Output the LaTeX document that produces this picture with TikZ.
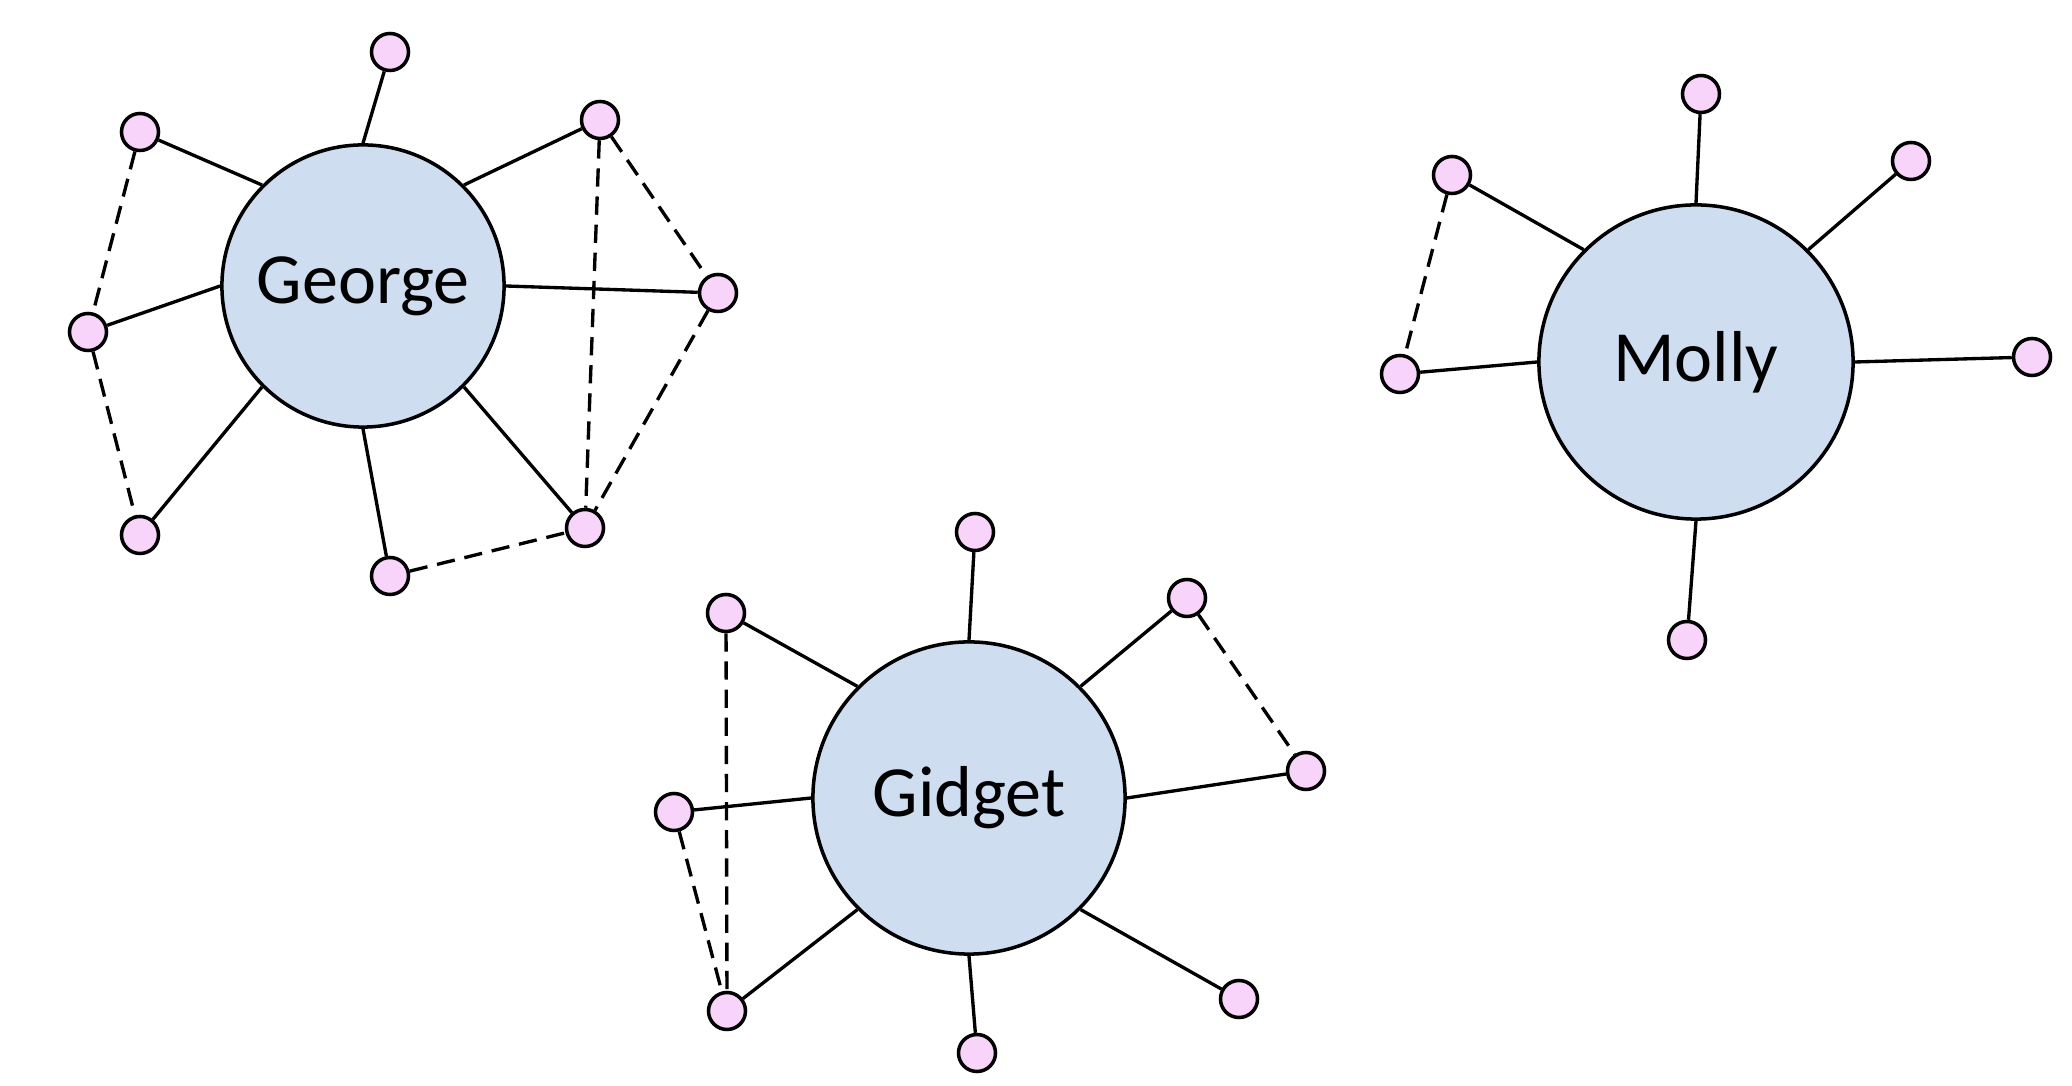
\documentclass[tikz,border=0pt]{standalone}
\usepackage{fontspec}
\setmainfont{Carlito}
\definecolor{hubfill}{RGB}{206,221,239}
\definecolor{satfill}{RGB}{249,212,250}
\tikzset{
  hub/.style={circle, draw=black, line width=1pt, fill=hubfill, inner sep=0pt,
    font=\fontsize{20.5}{24}\selectfont},
  sat/.style={circle, draw=black, line width=1pt, fill=satfill, inner sep=0pt, minimum size=0.37cm},
  tie/.style={line width=0.95pt},
  weak/.style={line width=0.95pt, dash pattern=on 5.2pt off 2.8pt},
}
\begin{document}
\begin{tikzpicture}[x=0.01cm,y=-0.01cm]
\useasboundingbox (0,0) rectangle (2072,1086);
% George
\node[hub, minimum size=2.82cm] (G) at (363,286) {George};
\node[sat] (g1) at (390,52) {};
\node[sat] (g2) at (140,132) {};
\node[sat] (g3) at (88,332) {};
\node[sat] (g4) at (140,535) {};
\node[sat] (g5) at (390,576) {};
\node[sat] (g6) at (585,528) {};
\node[sat] (g7) at (718,293) {};
\node[sat] (g8) at (600,120) {};
\draw[tie] (G.north) -- (g1);
\draw[tie] (G.north west) -- (g2);
\draw[tie] (G.west) -- (g3);
\draw[tie] (G.south west) -- (g4);
\draw[tie] (G.south) -- (g5);
\draw[tie] (G.south east) -- (g6);
\draw[tie] (G.east) -- (g7);
\draw[tie] (G.north east) -- (g8);
\draw[weak] (g2) -- (g3);
\draw[weak] (g3) -- (g4);
\draw[weak] (g8) -- (g7);
\draw[weak] (g8) -- (g6);
\draw[weak] (g7) -- (g6);
\draw[weak] (g5) -- (g6);
% Gidget
\node[hub, minimum size=3.12cm] (D) at (969,798) {Gidget};
\node[sat] (d1) at (975,532) {};
\node[sat] (d2) at (726,613) {};
\node[sat] (d3) at (674,812) {};
\node[sat] (d4) at (727,1011) {};
\node[sat] (d5) at (977,1053) {};
\node[sat] (d6) at (1239,999) {};
\node[sat] (d7) at (1306,771) {};
\node[sat] (d8) at (1187,598) {};
\draw[tie] (D.north) -- (d1);
\draw[tie] (D.north west) -- (d2);
\draw[tie] (D.west) -- (d3);
\draw[tie] (D.south west) -- (d4);
\draw[tie] (D.south) -- (d5);
\draw[tie] (D.south east) -- (d6);
\draw[tie] (D.east) -- (d7);
\draw[tie] (D.north east) -- (d8);
\draw[weak] (d2) -- (d4);
\draw[weak] (d3) -- (d4);
\draw[weak] (d8) -- (d7);
% Molly
\node[hub, minimum size=3.14cm] (M) at (1696,362) {Molly};
\node[sat] (m1) at (1701,94) {};
\node[sat] (m2) at (1452,175) {};
\node[sat] (m3) at (1400,374) {};
\node[sat] (m4) at (1911,161) {};
\node[sat] (m5) at (2032,357) {};
\node[sat] (m6) at (1687,640) {};
\draw[tie] (M.north) -- (m1);
\draw[tie] (M.north west) -- (m2);
\draw[tie] (M.west) -- (m3);
\draw[tie] (M.north east) -- (m4);
\draw[tie] (M.east) -- (m5);
\draw[tie] (M.south) -- (m6);
\draw[weak] (m2) -- (m3);
\end{tikzpicture}
\end{document}
